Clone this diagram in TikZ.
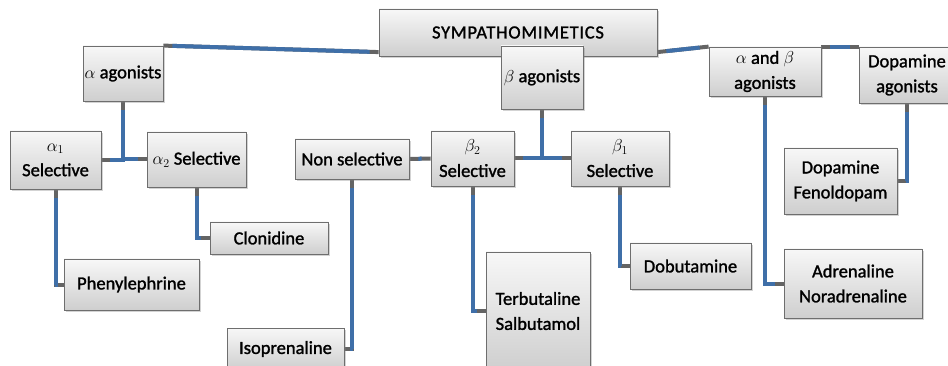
\documentclass[tikz,border=0pt]{standalone}
\usepackage{fontspec}
\setmainfont{Carlito}
\newfontfamily\boxfont{Carlito}[FakeBold=1.4]
\usetikzlibrary{shadows,backgrounds}
\definecolor{linkblue}{RGB}{63,111,168}
\definecolor{stubgray}{RGB}{100,100,100}
\definecolor{boxedge}{RGB}{110,110,110}
\tikzset{
  box/.style={draw=boxedge, line width=0.8pt, top color=gray!6, bottom color=gray!38,
    drop shadow={shadow xshift=1.5pt, shadow yshift=-2pt, opacity=0.35},
    align=center, inner sep=1pt, text=black, font=\boxfont\fontsize{18.5}{25}\selectfont},
  link/.style={draw=linkblue, line width=4pt, shorten <=9pt, shorten >=9pt,
    preaction={draw=stubgray, line width=4pt, shorten <=0pt, shorten >=0pt}}
}

\begin{document}
\begin{tikzpicture}[x=1pt,y=-1pt]
  \useasboundingbox (0,0) rectangle (948,366);
  \node[box, minimum width=278pt, minimum height=47pt] (sym) at (518,32.5) {\addfontfeature{LetterSpace=4}SYMPATHOMIMETICS};
  \node[box, minimum width=80pt, minimum height=55pt] (alpha) at (123,73.5) {$\alpha$ agonists};
  \node[box, minimum width=82pt, minimum height=63pt] (beta) at (542,77.5) {$\beta$ agonists};
  \node[box, minimum width=112pt, minimum height=49pt] (ab) at (765,71.5) {$\alpha$ and $\beta$\\agonists};
  \node[box, minimum width=96pt, minimum height=56pt] (dopag) at (907,75) {Dopamine\\agonists};
  \node[box, minimum width=91pt, minimum height=58pt] (a1) at (55.5,160) {$\alpha_1$\\Selective};
  \node[box, minimum width=99pt, minimum height=55pt] (a2) at (196.5,159.5) {$\alpha_2$ Selective};
  \node[box, minimum width=114pt, minimum height=40pt] (nonsel) at (352,159) {Non selective};
  \node[box, minimum width=83pt, minimum height=55pt] (b2) at (472.5,158.5) {$\beta_2$\\Selective};
  \node[box, minimum width=98pt, minimum height=55pt] (b1) at (620,158.5) {$\beta_1$\\Selective};
  \node[box, minimum width=113pt, minimum height=66pt] (dopfen) at (840.5,181) {Dopamine\\Fenoldopam};
  \node[box, minimum width=118pt, minimum height=32pt] (clon) at (269,238) {Clonidine};
  \node[box, minimum width=135pt, minimum height=51pt] (phen) at (131.5,284.5) {Phenylephrine};
  \node[box, minimum width=117pt, minimum height=42pt] (iso) at (285.5,349) {Isoprenaline};
  \node[box, minimum width=104pt, minimum height=118pt] (terb) at (538,311) {Terbutaline\\Salbutamol};
  \node[box, minimum width=121pt, minimum height=46pt] (dob) at (690.5,266) {Dobutamine};
  \node[box, minimum width=138pt, minimum height=69pt] (adr) at (853,283.5) {Adrenaline\\Noradrenaline};
  \begin{pgfonlayer}{background}
    \draw[link] (sym.188) -- (alpha.north east);
    \draw[link] (sym.352) -- (ab.north west);
    \draw[link] (ab.north east) -- (dopag.north west);
    \draw[link] (alpha.south) |- (a1.east);
    \draw[link] (alpha.south) |- (a2.west);
    \draw[link] (beta.south) |- (b2.east);
    \draw[link] (beta.south) |- (b1.west);
    \draw[link] (nonsel.east) -- (b2.west);
    \draw[link] (a1.south) |- (phen.west);
    \draw[link] (a2.south) |- (clon.west);
    \draw[link] (nonsel.south) |- (iso.east);
    \draw[link] (b2.south) |- (terb.west);
    \draw[link] (b1.south) |- (dob.west);
    \draw[link] (ab.south) |- (adr.west);
    \draw[link] (dopag.south) |- (dopfen.east);
  \end{pgfonlayer}
\end{tikzpicture}
\end{document}
